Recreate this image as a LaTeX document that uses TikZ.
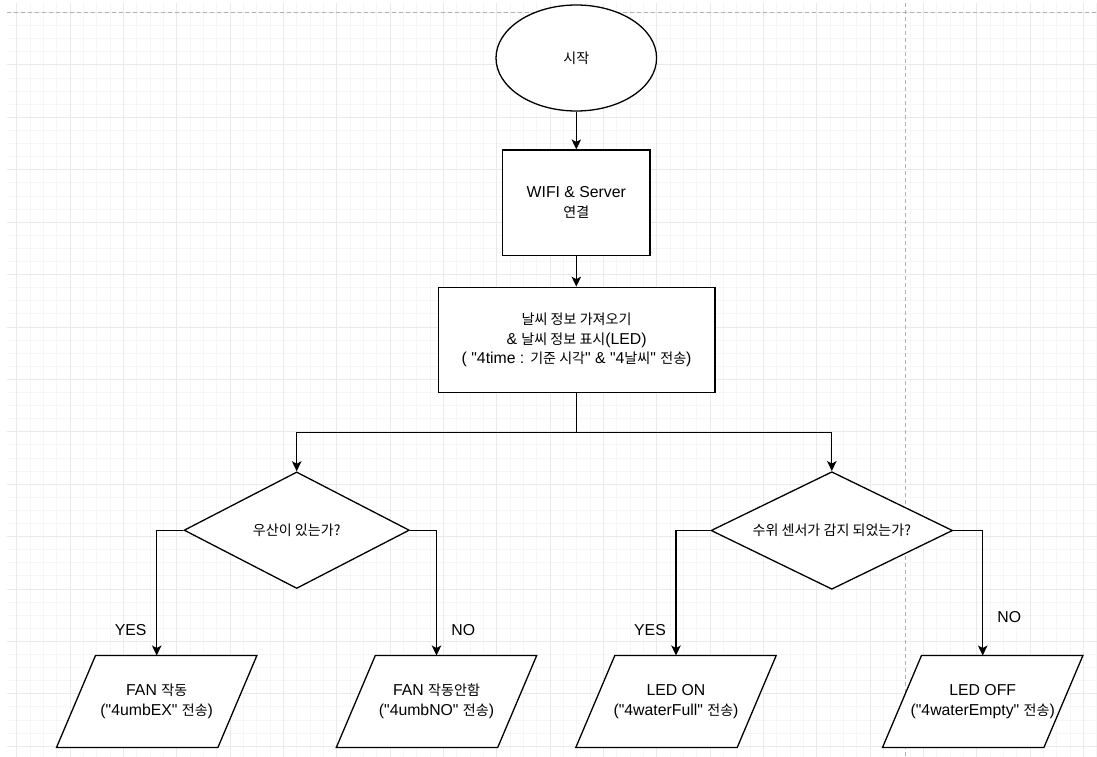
\documentclass[tikz,border=0pt]{standalone}
\usepackage{fontspec}
\setmainfont{Liberation Sans}
\newfontfamily\korfont[Scale=0.89]{Noto Sans CJK KR}
\usetikzlibrary{shapes.geometric,arrows.meta,calc}

% straight double quote glyph, set directly so no input mapping curls it
\newcommand\dq{\XeTeXglyph\XeTeXcharglyph"22\relax}

\definecolor{gridminor}{HTML}{F6F6F6}
\definecolor{gridmajor}{HTML}{EAEAEA}
\definecolor{pagebreak}{HTML}{B0B0B0}

\pgfdeclarelayer{gridlayer}
\pgfdeclarelayer{shapelayer}
\pgfsetlayers{gridlayer,shapelayer,main}

\tikzset{
  every node/.style={font=\fontsize{15.8}{19.5}\selectfont, text=black},
  minorline/.style={draw=gridminor, line width=1pt},
  majorline/.style={draw=gridmajor, line width=1pt},
  pageline/.style={draw=pagebreak, line width=1pt, dash pattern=on 4pt off 3pt},
  shapeline/.style={draw=black, line width=1.3pt, fill=white},
  startoval/.style={shapeline, ellipse, inner sep=0pt},
  procbox/.style={shapeline, rectangle, inner sep=0pt, align=center},
  decision/.style={shapeline, diamond, inner sep=0pt},
  iobox/.style={rectangle, inner sep=0pt, align=center,
                minimum width=200pt, minimum height=91.6pt},
  plainline/.style={draw=black, line width=1.3pt},
  flow/.style={plainline, -{Stealth[length=10pt,width=9.5pt,inset=2.5pt]}},
  branchlabel/.style={inner sep=0pt},
}

% slanted input/output box drawn behind a named text node
\newcommand\ioshape[1]{%
  \begin{pgfonlayer}{shapelayer}
    \draw[shapeline] ($(#1.north west)+(39,0)$) -- (#1.north east)
      -- ($(#1.south east)+(-39,0)$) -- (#1.south west) -- cycle;
  \end{pgfonlayer}}

\begin{document}
\begin{tikzpicture}[x=1pt,y=-1pt]
\useasboundingbox (0,0) rectangle (1097,757);

% background grid and page breaks
\begin{pgfonlayer}{gridlayer}
  \fill[white] (0,0) rectangle (1097,757);
  \foreach \i in {0,...,81}
    \draw[minorline] ({16.667+13.3333*\i},3) -- ++(0,754);
  \foreach \j in {0,...,56}
    \draw[minorline] (7,{12.6+13.1*\j}) -- (1097,{12.6+13.1*\j});
  \foreach \i in {0,...,20}
    \draw[majorline] ({16.667+53.3333*\i},3) -- ++(0,754);
  \foreach \j in {0,...,14}
    \draw[majorline] (7,{12.6+52.4*\j}) -- (1097,{12.6+52.4*\j});
  \draw[pageline] (7,12.6) -- (1097,12.6);
  \draw[pageline] (905,3) -- (905,757);
\end{pgfonlayer}

% main flow
\node[startoval, minimum width=160.6pt, minimum height=106pt] (start) at (576.3,58) {{\korfont 시작}};
\node[procbox, minimum width=147.3pt, minimum height=105.3pt] (wifi) at (576.3,202.7)
  {WIFI \& Server\\{\korfont 연결}};
\node[procbox, minimum width=276.7pt, minimum height=105.4pt] (weather) at (576.6,340)
  {{\korfont 날씨 정보 가져오기}\\\& {\korfont 날씨 정보 표시}(LED)\\( \dq4time : {\korfont 기준 시각}\dq{} \& \dq4{\korfont 날씨}\dq{} {\korfont 전송})};

% decisions
\node[decision, minimum width=225.3pt, minimum height=116.6pt] (d1) at (296.7,530.2) {};
\node (q1) at (d1.center) {{\korfont 우산이 있는가?}};
\node[decision, minimum width=241.6pt, minimum height=117.6pt] (d2) at (831.8,530.5) {};
\node (q2) at (d2.center) {{\korfont 수위 센서가 감지 되었는가?}};

% outputs
\node[iobox] (p1) at (156.7,701.5) {FAN {\korfont 작동}\\(\dq4umbEX\dq{} {\korfont 전송})};
\ioshape{p1}
\node[iobox] (p2) at (436.5,701.5) {FAN {\korfont 작동안함}\\(\dq4umbNO\dq{} {\korfont 전송})};
\ioshape{p2}
\node[iobox] (p3) at (676,701.5) {LED ON\\(\dq4waterFull\dq{} {\korfont 전송})};
\ioshape{p3}
\node[iobox] (p4) at (982.7,701.5) {LED OFF\\(\dq4waterEmpty\dq{} {\korfont 전송})};
\ioshape{p4}

% connectors
\draw[flow] (start) -- (wifi);
\draw[flow] (wifi.south) -- (wifi.south |- weather.north);
\coordinate (split) at (576.6,432.3);
\draw[plainline] (weather.south) -- (split);
\draw[flow] (split) -| (d1.north);
\draw[flow] (split) -| (d2.north);
\draw[flow] (d1.west) -| (p1.north);
\draw[flow] (d1.east) -| (p2.north);
\draw[flow] (d2.west) -| (p3.north);
\draw[flow] (d2.east) -| (p4.north);

% branch labels
\node[branchlabel] (yes1) at (130.7,630) {YES};
\node[branchlabel] (no1) at (463.3,630) {NO};
\node[branchlabel] (yes2) at (650,630) {YES};
\node[branchlabel] (no2) at (1009.3,616.7) {NO};
\end{tikzpicture}
\end{document}
